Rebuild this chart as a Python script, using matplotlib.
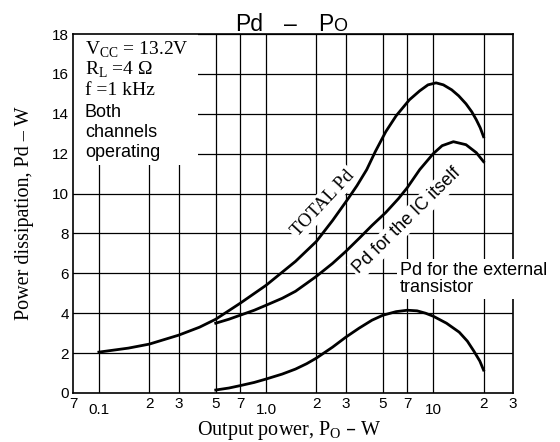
import matplotlib
matplotlib.use("Agg")
import matplotlib.pyplot as plt
from matplotlib.patches import Rectangle

# ---- data ----
total_x = [0.1, 0.15, 0.2, 0.3, 0.4, 0.5, 0.7, 1.0, 1.5, 2.0, 2.5, 3.1, 3.5, 4.0, 4.5,
           5.2, 6.0, 7.2, 8.3, 9.3, 10.4, 11.5, 12.9, 14.2, 15.7, 17.0, 18.1, 19.1, 20]
total_y = [2.05, 2.25, 2.45, 2.9, 3.3, 3.7, 4.5, 5.4, 6.6, 7.6, 8.65, 9.75, 10.4, 11.2, 12.1,
           13.1, 13.9, 14.7, 15.15, 15.45, 15.55, 15.45, 15.2, 14.9, 14.5, 14.1, 13.7, 13.3, 12.85]

ic_x = [0.5, 0.6, 0.7, 0.85, 1.0, 1.25, 1.5, 1.75, 2.0, 2.5, 3.0, 3.6, 4.3, 5.2, 6.2, 7.0,
        8.3, 10, 11.3, 13.2, 15.7, 18.1, 20]
ic_y = [3.5, 3.7, 3.9, 4.15, 4.4, 4.75, 5.1, 5.5, 5.85, 6.5, 7.1, 7.75, 8.4, 9.05, 9.75, 10.3,
        11.2, 12.0, 12.4, 12.6, 12.45, 12.05, 11.6]

ext_x = [0.5, 0.6, 0.7, 0.85, 1.0, 1.25, 1.5, 1.75, 2.0, 2.5, 3.0, 3.6, 4.3, 5.0, 6.0, 7.0,
         8.0, 9.0, 10, 12, 14.3, 16, 17.5, 19, 20]
ext_y = [0.15, 0.25, 0.37, 0.53, 0.7, 0.95, 1.2, 1.47, 1.75, 2.3, 2.8, 3.25, 3.65, 3.9, 4.08,
         4.15, 4.12, 4.0, 3.85, 3.5, 3.05, 2.6, 2.1, 1.6, 1.15]

grid_x = [0.1, 0.2, 0.3, 0.5, 0.7, 1, 2, 3, 5, 7, 10, 20]
xtick_pos = [0.07, 0.2, 0.3, 0.5, 0.7, 2, 3, 5, 7, 20, 30]
xtick_lab = ["7", "2", "3", "5", "7", "2", "3", "5", "7", "2", "3"]
xtick_low_pos = [0.1, 1.0, 10]
xtick_low_lab = ["0.1", "1.0", "10"]
yticks = [0, 2, 4, 6, 8, 10, 12, 14, 16, 18]

SANS = "Liberation Sans"
SERIF = "Liberation Serif"

fig = plt.figure(figsize=(5.6, 4.42), dpi=100)
ax = fig.add_axes([73/560, 1-393/442, 440/560, 359/442])
ax.set_xscale("log")
ax.set_xlim(0.07, 30)
ax.set_ylim(0, 18)
ax.set_axisbelow(True)

for x in grid_x:
    ax.axvline(x, color="black", lw=0.9, zorder=0.5)
for y in yticks[1:]:
    ax.axhline(y, color="black", lw=0.9, zorder=0.5)

ax.set_xticks(xtick_pos)
ax.set_xticklabels(xtick_lab, fontfamily=SANS, fontsize=11)
ax.xaxis.set_minor_locator(matplotlib.ticker.NullLocator())
ax.set_yticks(yticks)
ax.set_yticklabels([str(v) for v in yticks], fontfamily=SANS, fontsize=11)
ax.tick_params(axis="both", length=0, pad=3)
for xp, lab in zip(xtick_low_pos, xtick_low_lab):
    ax.text(xp, -0.029, lab, transform=ax.get_xaxis_transform(), ha="center", va="top",
            fontfamily=SANS, fontsize=11)
for s in ax.spines.values():
    s.set_linewidth(1.2)

# white area for the condition block
ax.add_patch(Rectangle((0, 0.635), 0.285, 0.365, transform=ax.transAxes,
                       facecolor="white", edgecolor="none", zorder=1))

ax.plot(total_x, total_y, color="black", lw=2.0, zorder=2, solid_joinstyle="round")
ax.plot(ic_x, ic_y, color="black", lw=2.0, zorder=2, solid_joinstyle="round")
ax.plot(ext_x, ext_y, color="black", lw=2.0, zorder=2, solid_joinstyle="round")

# condition text
cond = [("V$_\\mathregular{CC}$ = 13.2V", SERIF, 14, 0.955),
        ("R$_\\mathregular{L}$ =4 \u03a9", SERIF, 14, 0.900),
        ("f =1 kHz", SERIF, 14, 0.844),
        ("Both", SANS, 13, 0.780),
        ("channels", SANS, 13, 0.727),
        ("operating", SANS, 13, 0.671)]
for t, fam, fs, yy in cond:
    ax.text(0.027, yy, t, transform=ax.transAxes, ha="left", va="center",
            fontfamily=fam, fontsize=fs, zorder=3)

ax.text(0.568, 0.529, "TOTAL Pd", transform=ax.transAxes, rotation=47,
        ha="center", va="center", fontfamily=SERIF, fontsize=13.5, zorder=1.5,
        rotation_mode="anchor",
        bbox=dict(facecolor="white", edgecolor="none", pad=1.5))
ax.text(0.759, 0.479, "Pd for the IC itself", transform=ax.transAxes, rotation=44.5,
        ha="center", va="center", fontfamily=SANS, fontsize=13, zorder=1.5,
        rotation_mode="anchor",
        bbox=dict(facecolor="white", edgecolor="none", pad=1.5))
ax.text(0.743, 0.318, "Pd for the external\ntransistor", transform=ax.transAxes,
        ha="left", va="center", fontfamily=SANS, fontsize=13, linespacing=1.0,
        zorder=3, bbox=dict(facecolor="white", edgecolor="none", pad=2))

# title
base_y = 1 - 31/442
fig.text(249/560, base_y, "Pd", ha="center", va="baseline", fontfamily=SANS, fontsize=16.5)
fig.text(290/560, base_y, "\u2013", ha="center", va="baseline", fontfamily=SANS, fontsize=16.5)
fig.text(326/560, base_y, "P", ha="center", va="baseline", fontfamily=SANS, fontsize=16.5)
fig.text(340.5/560, base_y, "O", ha="center", va="baseline", fontfamily=SANS, fontsize=13)

fig.text(289/560, 1-431/442, "Output power, P$_\\mathregular{O}$ \u2013 W", ha="center",
         va="center", fontfamily=SERIF, fontsize=14.5)
fig.text(25/560, 1-213/442, "Power dissipation, Pd \u2013 W", ha="center", va="center",
         rotation=90, fontfamily=SERIF, fontsize=14.5)

fig.savefig("out.png", dpi=100)
